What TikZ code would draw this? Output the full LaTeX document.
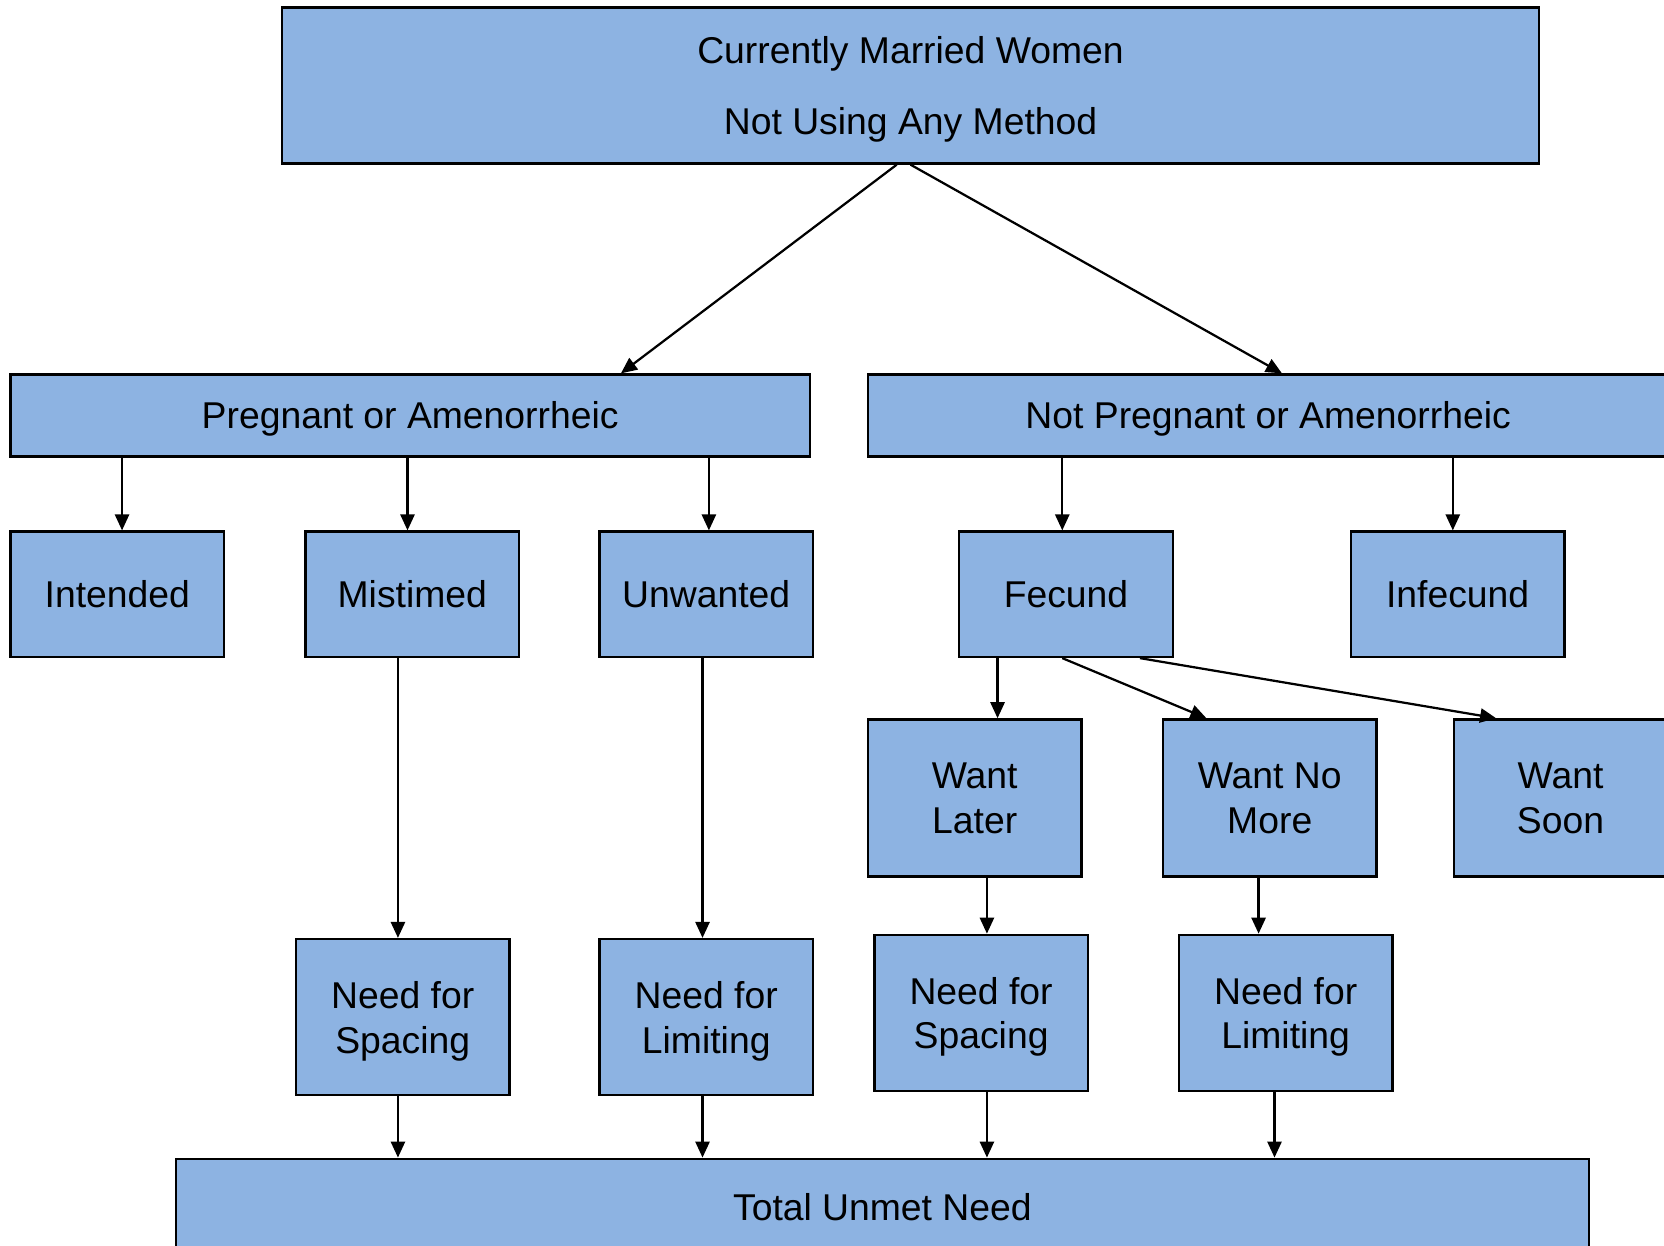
\documentclass[tikz,border=0pt]{standalone}
\usepackage{fontspec}
\setmainfont{Liberation Sans}
\usetikzlibrary{arrows.meta}
\definecolor{boxblue}{RGB}{141,179,226}
\begin{document}
\begin{tikzpicture}[x=0.01cm,y=-0.01cm,>={Triangle[length=4.3pt,width=3.8pt]},
    box/.style={draw,line width=0.65pt,fill=boxblue,align=center,inner sep=0pt,
        minimum width=2.01cm,text depth=0pt,font=\fontsize{10}{12}\selectfont},
    arr/.style={->,line width=0.6pt}]
    \useasboundingbox (0,0) rectangle (1568,1174);

    % top and the two groups
    \node[box,minimum width=11.84cm,minimum height=1.47cm] (top) at (858,80.5) {Currently Married Women\\[7pt]Not Using Any Method};
    \node[box,minimum width=7.53cm,minimum height=0.77cm] (preg) at (386.5,391.5) {Pregnant or Amenorrheic};
    \node[box,minimum width=7.54cm,minimum height=0.77cm] (notpreg) at (1195,391.5) {Not Pregnant or Amenorrheic};

    % second row
    \node[box,minimum height=1.18cm] (intended) at (110.5,560) {Intended};
    \node[box,minimum height=1.18cm] (mistimed) at (388.5,560) {Mistimed};
    \node[box,minimum height=1.18cm] (unwanted) at (665.5,560) {Unwanted};
    \node[box,minimum height=1.18cm] (fecund) at (1004.5,560) {Fecund};
    \node[box,minimum height=1.18cm] (infecund) at (1373.5,560) {Infecund};

    % wants
    \node[box,minimum height=1.48cm] (wantlater) at (918.5,752) {Want\\Later};
    \node[box,minimum height=1.48cm] (wantnomore) at (1196.5,752) {Want No\\More};
    \node[box,minimum height=1.48cm] (wantsoon) at (1470.5,752) {Want\\Soon};

    % needs
    \node[box,minimum height=1.47cm] (spaceA) at (379.5,958.5) {Need for\\Spacing};
    \node[box,minimum height=1.47cm] (limitA) at (665.5,958.5) {Need for\\Limiting};
    \node[box,minimum height=1.47cm] (spaceB) at (924.5,954.5) {Need for\\Spacing};
    \node[box,minimum height=1.47cm] (limitB) at (1211.5,954.5) {Need for\\Limiting};

    \node[box,minimum width=13.31cm,minimum height=0.9cm] (total) at (831.5,1137) {Total Unmet Need};

    % connectors
    \draw[arr] ([xshift=-0.13cm]top.south) -- ([xshift=1.985cm]preg.north);
    \draw[arr] (top.south) -- ([xshift=0.13cm]notpreg.north);

    \draw[arr] ([xshift=0.045cm]intended.north |- preg.south) -- ([xshift=0.045cm]intended.north);
    \draw[arr] ([xshift=-0.045cm]mistimed.north |- preg.south) -- ([xshift=-0.045cm]mistimed.north);
    \draw[arr] ([xshift=0.025cm]unwanted.north |- preg.south) -- ([xshift=0.025cm]unwanted.north);
    \draw[arr] ([xshift=-0.035cm]fecund.north |- notpreg.south) -- ([xshift=-0.035cm]fecund.north);
    \draw[arr] ([xshift=-0.045cm]infecund.north |- notpreg.south) -- ([xshift=-0.045cm]infecund.north);

    \draw[arr] ([xshift=0.215cm]wantlater.north |- fecund.south) -- ([xshift=0.215cm]wantlater.north);
    \draw[arr] ([xshift=-0.035cm]fecund.south) -- ([xshift=0.42cm]wantnomore.north west);
    \draw[arr] ([xshift=-0.32cm]fecund.south east) -- ([xshift=0.41cm]wantsoon.north west);

    \draw[arr] ([xshift=-0.045cm]spaceA.north |- mistimed.south) -- ([xshift=-0.045cm]spaceA.north);
    \draw[arr] ([xshift=-0.035cm]unwanted.south) -- ([xshift=-0.035cm]limitA.north);
    \draw[arr] ([xshift=0.055cm]spaceB.north |- wantlater.south) -- ([xshift=0.055cm]spaceB.north);
    \draw[arr] ([xshift=-0.255cm]limitB.north |- wantnomore.south) -- ([xshift=-0.255cm]limitB.north);

    \draw[arr] ([xshift=-0.045cm]spaceA.south) -- ([xshift=-0.045cm]spaceA.south |- total.north);
    \draw[arr] ([xshift=-0.035cm]limitA.south) -- ([xshift=-0.035cm]limitA.south |- total.north);
    \draw[arr] ([xshift=0.055cm]spaceB.south) -- ([xshift=0.055cm]spaceB.south |- total.north);
    \draw[arr] ([xshift=-0.105cm]limitB.south) -- ([xshift=-0.105cm]limitB.south |- total.north);
\end{tikzpicture}
\end{document}
